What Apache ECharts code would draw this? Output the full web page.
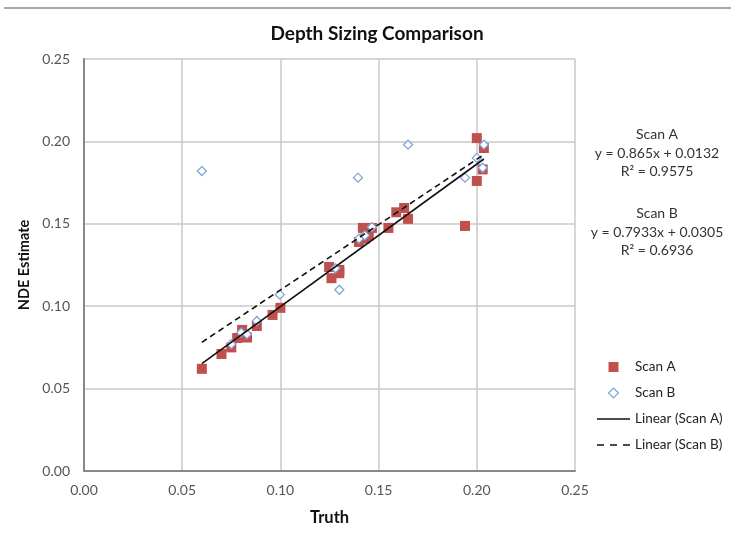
<!DOCTYPE html>
<html>
<head>
<meta charset="utf-8">
<script src="https://cdn.jsdelivr.net/npm/echarts@6/dist/echarts.min.js"></script>
<style>
  html, body { margin: 0; padding: 0; background: #fff; }
  #main { width: 731px; height: 538px; }
</style>
</head>
<body>
<div id="main"></div>
<script>
// Scan A (red squares): truth / NDE estimate
const scanATruth = [0.060, 0.070, 0.075, 0.078, 0.0805, 0.083, 0.088, 0.096, 0.100,
  0.1248, 0.126, 0.130, 0.130, 0.140, 0.142, 0.143, 0.145, 0.1466, 0.155, 0.159,
  0.163, 0.165, 0.194, 0.200, 0.200, 0.203, 0.2036];
const scanANde = [0.062, 0.071, 0.075, 0.0807, 0.0856, 0.081, 0.088, 0.0947, 0.099,
  0.1238, 0.117, 0.122, 0.120, 0.139, 0.1475, 0.141, 0.143, 0.1475, 0.1475, 0.157,
  0.1596, 0.153, 0.1487, 0.176, 0.202, 0.183, 0.196];

// Scan B (blue diamonds)
const scanBTruth = [0.060, 0.075, 0.080, 0.083, 0.088, 0.0997, 0.128, 0.130, 0.140,
  0.1395, 0.143, 0.1466, 0.165, 0.194, 0.200, 0.203, 0.2036];
const scanBNde = [0.182, 0.077, 0.084, 0.083, 0.091, 0.107, 0.123, 0.110, 0.141,
  0.178, 0.143, 0.148, 0.198, 0.178, 0.190, 0.184, 0.198];

// trendline coefficients [slope, intercept, R2]
const fitA = [0.865, 0.0132, 0.9575];
const fitB = [0.7933, 0.0305, 0.6936];

const axisTicks = [0, 0.05, 0.10, 0.15, 0.20, 0.25];

function zip(xs, ys) { return xs.map((x, i) => [x, ys[i]]); }
function trend(xs, fit) {
  const lo = Math.min.apply(null, xs), hi = Math.max.apply(null, xs);
  return [[lo, fit[0] * lo + fit[1]], [hi, fit[0] * hi + fit[1]]];
}

const font = 'Lato, "Open Sans", sans-serif';
const eqStyle = { fontSize: 14, fill: '#333', fontFamily: font, textAlign: 'center' };

const chart = echarts.init(document.getElementById('main'));
chart.setOption({
  animation: false,
  title: {
    text: 'Depth Sizing Comparison',
    left: 372, top: 19, textAlign: 'center',
    textStyle: { fontSize: 19, fontWeight: 'bold', color: '#111', fontFamily: font }
  },
  grid: { left: 84, right: 156, top: 59, bottom: 67 },
  xAxis: {
    type: 'value', min: axisTicks[0], max: axisTicks[axisTicks.length - 1], interval: 0.05,
    name: 'Truth', nameLocation: 'middle', nameGap: 38,
    nameTextStyle: { fontSize: 16.5, fontWeight: 'bold', color: '#111', fontFamily: font },
    axisLine: { show: true, lineStyle: { color: '#888', width: 2 } },
    axisTick: { show: false },
    axisLabel: { color: '#555', fontSize: 14, fontFamily: font, margin: 12,
      formatter: v => v.toFixed(2) },
    splitLine: { show: true, lineStyle: { color: '#c8c8c8', width: 1.5 } }
  },
  yAxis: {
    type: 'value', min: axisTicks[0], max: axisTicks[axisTicks.length - 1], interval: 0.05,
    name: 'NDE Estimate', nameLocation: 'middle', nameGap: 52,
    nameTextStyle: { fontSize: 14.5, fontWeight: 'bold', color: '#111', fontFamily: font },
    axisLine: { show: true, lineStyle: { color: '#888', width: 2 } },
    axisTick: { show: false },
    axisLabel: { color: '#555', fontSize: 14, fontFamily: font, margin: 14,
      formatter: v => v.toFixed(2) },
    splitLine: { show: true, lineStyle: { color: '#c8c8c8', width: 1.5 } }
  },
  legend: {
    orient: 'vertical', left: 592, top: 355, itemWidth: 33, itemHeight: 10, itemGap: 12,
    symbolKeepAspect: true,
    textStyle: { fontSize: 13.5, color: '#222', fontFamily: font },
    data: [
      { name: 'Scan A', icon: 'path://M0,0h10v10h-10z' },
      { name: 'Scan B', icon: 'path://M5,0L10,5L5,10L0,5Z', itemStyle: { borderWidth: 1.2 } },
      { name: 'Linear (Scan A)', icon: 'path://M0,0h33v1.6h-33z' },
      { name: 'Linear (Scan B)', icon: 'path://M0,0h7v1.6h-7z M13,0h7v1.6h-7z M26,0h7v1.6h-7z' }
    ]
  },
  graphic: [
    { type: 'rect', shape: { x: 4, y: 7, width: 727, height: 2 }, style: { fill: '#a8a8a8' } },
    { type: 'text', x: 657, y: 127, style: Object.assign({ text: 'Scan A' }, eqStyle) },
    { type: 'text', x: 657, y: 146, style: Object.assign({ text: 'y = ' + fitA[0] + 'x + ' + fitA[1] }, eqStyle) },
    { type: 'text', x: 657, y: 164, style: Object.assign({ text: 'R² = ' + fitA[2] }, eqStyle) },
    { type: 'text', x: 657, y: 206, style: Object.assign({ text: 'Scan B' }, eqStyle) },
    { type: 'text', x: 657, y: 225, style: Object.assign({ text: 'y = ' + fitB[0] + 'x + ' + fitB[1] }, eqStyle) },
    { type: 'text', x: 657, y: 243, style: Object.assign({ text: 'R² = ' + fitB[2] }, eqStyle) }
  ],
  series: [
    {
      name: 'Scan A', type: 'scatter', symbol: 'rect', symbolSize: 10, z: 2,
      itemStyle: { color: '#c0504d', opacity: 1 },
      data: zip(scanATruth, scanANde)
    },
    {
      name: 'Scan B', type: 'scatter', symbol: 'diamond', symbolSize: 9, z: 3,
      itemStyle: { color: '#fff', borderColor: '#7fa6d8', borderWidth: 1.3, opacity: 1 },
      data: zip(scanBTruth, scanBNde)
    },
    {
      name: 'Linear (Scan A)', type: 'line', showSymbol: false, symbol: 'none', z: 4,
      lineStyle: { color: '#111', width: 1.6 }, itemStyle: { color: '#111' },
      data: trend(scanATruth, fitA)
    },
    {
      name: 'Linear (Scan B)', type: 'line', showSymbol: false, symbol: 'none', z: 4,
      lineStyle: { color: '#111', width: 1.6, type: [6, 4] }, itemStyle: { color: '#111' },
      data: trend(scanBTruth, fitB)
    }
  ]
});
window.onresize = function() { chart.resize(); };
</script>
</body>
</html>
